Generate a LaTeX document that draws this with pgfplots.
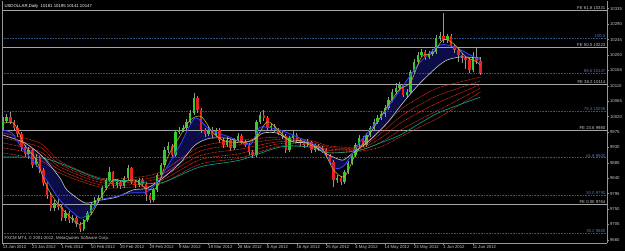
\documentclass[border=0pt]{standalone}
\usepackage{fontspec}
\setmainfont{Liberation Sans}
\usepackage{pgfplots}
\usepackage{pgfplotstable}
\pgfplotsset{compat=1.18}
\definecolor{axgray}{RGB}{150,150,150}
\definecolor{labgray}{RGB}{200,200,200}
\definecolor{fegray}{RGB}{165,165,165}
\definecolor{fibo}{RGB}{40,85,130}
\definecolor{fibotxt}{RGB}{80,120,170}
\definecolor{cup}{RGB}{50,205,50}
\definecolor{cdn}{RGB}{240,30,30}
\definecolor{wick}{RGB}{150,150,150}
\definecolor{teal2}{RGB}{0,170,150}
\definecolor{redma}{RGB}{255,55,30}
\definecolor{whitema}{RGB}{200,200,190}
\definecolor{bluema}{RGB}{50,70,250}
\definecolor{yelma}{RGB}{190,170,50}
\definecolor{navyfill}{RGB}{12,12,72}
\newcommand{\tf}{\fontsize{4.3}{5}\selectfont}

\pgfplotstableread{
x o h l c
0 9987 10018 9980 10007
1 10007 10028 10000 10019
7 9911 9930 9895 9922
9 9879 9910 9872 9899
14 9753 9776 9744 9768
17 9724 9746 9715 9738
19 9718 9732 9708 9724
22 9692 9722 9686 9718
23 9718 9745 9712 9738
24 9738 9768 9732 9762
25 9762 9784 9755 9776
26 9776 9792 9768 9782
27 9782 9818 9776 9811
28 9811 9842 9805 9835
29 9835 9872 9828 9858
31 9820 9838 9812 9829
33 9817 9848 9812 9841
34 9841 9880 9835 9870
37 9820 9842 9814 9835
41 9776 9812 9770 9806
42 9806 9856 9800 9849
43 9849 9886 9842 9879
44 9879 9930 9872 9922
45 9922 9945 9915 9934
47 9908 9982 9902 9975
48 9975 9990 9968 9981
49 9981 9996 9974 9987
50 9987 10012 9980 10004
51 10004 10040 9998 10030
52 10030 10089 10025 10074
56 9969 9992 9962 9981
58 9966 9988 9960 9981
61 9937 9960 9930 9951
63 9928 9958 9922 9951
64 9951 9972 9945 9963
69 9908 10010 9902 10004
70 10004 10034 9998 10024
73 9987 10000 9980 9992
78 9922 9962 9916 9957
79 9957 9978 9950 9966
83 9937 9954 9930 9946
85 9922 9940 9916 9934
91 9835 9850 9826 9841
93 9829 9864 9822 9858
94 9858 9890 9852 9884
95 9884 9914 9878 9908
96 9908 9944 9902 9937
97 9937 9966 9930 9957
99 9937 9972 9932 9966
100 9966 9994 9960 9987
101 9987 10012 9980 10004
102 10004 10024 9998 10016
103 10016 10036 10010 10027
104 10027 10054 10020 10045
105 10045 10076 10040 10068
106 10068 10100 10062 10092
107 10092 10118 10086 10103
108 10103 10120 10096 10112
110 10083 10100 10075 10092
111 10092 10156 10088 10150
112 10150 10188 10144 10179
113 10179 10210 10172 10200
114 10200 10218 10194 10208
116 10194 10212 10188 10202
117 10202 10218 10196 10208
118 10208 10258 10204 10249
119 10249 10266 10242 10255
121 10243 10262 10236 10255
128 10156 10210 10150 10194
}\up

\pgfplotstableread{
x o h l c
2 10019 10032 9998 10004
3 10004 10010 9980 9987
4 9987 9995 9960 9969
5 9969 9974 9920 9931
6 9931 9938 9902 9911
8 9922 9926 9870 9879
10 9899 9905 9855 9864
11 9864 9870 9818 9826
12 9826 9832 9780 9791
13 9791 9798 9745 9753
15 9768 9780 9748 9756
16 9756 9765 9716 9724
18 9738 9744 9710 9718
20 9724 9730 9698 9706
21 9706 9712 9683 9692
30 9858 9862 9812 9820
32 9829 9835 9808 9817
35 9870 9874 9822 9829
36 9829 9836 9812 9820
38 9835 9840 9816 9823
39 9823 9828 9775 9791
40 9791 9798 9768 9776
46 9934 9940 9900 9908
53 10074 10080 10030 10039
54 10039 10045 9972 9981
55 9981 9988 9960 9969
57 9981 9990 9958 9966
59 9981 9986 9944 9951
60 9951 9958 9928 9937
62 9951 9956 9920 9928
65 9963 9968 9940 9946
66 9946 9952 9930 9937
67 9937 9942 9908 9916
68 9916 9922 9900 9908
71 10024 10040 10008 10016
72 10016 10022 9980 9987
74 9992 9998 9974 9981
75 9981 9986 9965 9972
76 9972 9980 9955 9963
77 9963 9968 9914 9922
80 9966 9972 9944 9951
81 9951 9958 9935 9943
82 9943 9950 9928 9937
84 9946 9950 9915 9922
86 9934 9940 9920 9928
87 9928 9934 9914 9922
88 9922 9928 9900 9908
89 9908 9912 9878 9887
90 9887 9892 9815 9835
92 9841 9848 9820 9829
98 9957 9962 9930 9937
109 10112 10116 10076 10083
115 10208 10214 10186 10194
120 10255 10322 10236 10243
122 10255 10262 10220 10226
123 10226 10232 10206 10214
124 10214 10220 10180 10200
125 10200 10206 10176 10191
126 10191 10198 10160 10185
127 10185 10190 10148 10156
129 10194 10220 10174 10181
130 10181 10195 10141 10147
}\down

\pgfplotstableread{
x y
0 9966
6 9943
10.9 9902
15.5 9841
17.4 9806
22.3 9768
26.4 9776
31 9785
35.4 9806
39.2 9811
43.6 9841
48.2 9884
51.7 9931
53.6 9946
56.4 9957
61 9957
65.4 9946
68.1 9951
70.8 9972
74.6 9972
79 9946
83.6 9943
86.3 9922
89.9 9902
92.6 9893
95.3 9914
99.9 9951
104.6 10001
108.9 10060
113.6 10118
118.2 10165
120.9 10185
124.5 10194
130 10191
}\whiteMA

\pgfplotstableread{
x y
0 9981
2.5 9972
4.6 9937
10.1 9864
15.5 9776
21 9724
23.7 9741
26.4 9776
30 9785
34.6 9797
39.2 9800
42.8 9841
48.2 9937
52.3 10016
56.4 9981
61.8 9960
67.3 9937
70 9989
75.4 9981
80.9 9957
86.3 9928
90.4 9870
93.1 9879
97.2 9946
102.7 10016
108.1 10097
113.6 10179
119 10229
123.1 10223
127.2 10200
130 10185
}\blueMA

% navy band: blue average forward, white average back
\pgfplotstableread{
x y
0 9981
2.5 9972
4.6 9937
10.1 9864
15.5 9776
21 9724
23.7 9741
26.4 9776
30 9785
34.6 9797
39.2 9800
42.8 9841
48.2 9937
52.3 10016
56.4 9981
61.8 9960
67.3 9937
70 9989
75.4 9981
80.9 9957
86.3 9928
90.4 9870
93.1 9879
97.2 9946
102.7 10016
108.1 10097
113.6 10179
119 10229
123.1 10223
127.2 10200
130 10185
130 10191
124.5 10194
120.9 10185
118.2 10165
113.6 10118
108.9 10060
104.6 10001
99.9 9951
95.3 9914
92.6 9893
89.9 9902
86.3 9922
83.6 9943
79 9946
74.6 9972
70.8 9972
68.1 9951
65.4 9946
61 9957
56.4 9957
53.6 9946
51.7 9931
48.2 9884
43.6 9841
39.2 9811
35.4 9806
31 9785
26.4 9776
22.3 9768
17.4 9806
15.5 9841
10.9 9902
6 9943
0 9966
}\band

\begin{document}
\begin{tikzpicture}
\fill[black] (0,0) rectangle (625bp,251bp);
\begin{axis}[
  at={(2bp,8bp)}, anchor=south west, scale only axis,
  width=605bp, height=242bp,
  xmin=-0.27, xmax=164.49, ymin=9651, ymax=10357.5,
  axis x line*=bottom, axis y line*=right,
  axis line style={draw=axgray, line width=0.6bp},
  tick align=outside, major tick length=2bp,
  tick style={draw=axgray, line width=0.5bp},
  xtick={0,8,...,128},
  xticklabels={13 Jan 2012,23 Jan 2012,1 Feb 2012,10 Feb 2012,20 Feb 2012,29 Feb 2012,9 Mar 2012,19 Mar 2012,28 Mar 2012,6 Apr 2012,16 Apr 2012,25 Apr 2012,4 May 2012,14 May 2012,23 May 2012,1 Jun 2012,11 Jun 2012},
  xticklabel style={font=\tf, text=labgray, anchor=north west, inner sep=0.6bp, xshift=-1bp},
  ytick={9660,9705,...,10335},
  scaled y ticks=false,
  /pgf/number format/1000 sep={},
  /pgf/number format/assume math mode=true,
  yticklabel style={font=\tf, text=labgray, anchor=west, inner sep=0.8bp},
]
% navy band
\addplot[fill=navyfill, draw=none, smooth, tension=0.4] table[x=x, y=y] {\band};
% horizontal levels
\addplot[fegray, line width=0.7bp] coordinates {(-0.27,10331) (164.49,10331)};
\addplot[fegray, line width=0.7bp] coordinates {(-0.27,10223) (164.49,10223)};
\addplot[fegray, line width=0.7bp] coordinates {(-0.27,10114) (164.49,10114)};
\addplot[fegray, line width=0.7bp] coordinates {(-0.27,9980) (164.49,9980)};
\addplot[fegray, line width=0.7bp] coordinates {(-0.27,9764) (164.49,9764)};
\addplot[fibo, line width=0.6bp, densely dotted] coordinates {(-0.27,10250) (164.49,10250)};
\addplot[fibo, line width=0.6bp, densely dotted] coordinates {(-0.27,10147) (164.49,10147)};
\addplot[fibo, line width=0.6bp, densely dotted] coordinates {(-0.27,10035) (164.49,10035)};
\addplot[fibo, line width=0.6bp, densely dotted] coordinates {(-0.27,9900) (164.49,9900)};
\addplot[fibo, line width=0.6bp, densely dotted] coordinates {(-0.27,9790) (164.49,9790)};
\addplot[fibo, line width=0.6bp, densely dotted] coordinates {(-0.27,9680) (164.49,9680)};
% left frame line
\addplot[axgray, line width=0.8bp] coordinates {(-0.2,9651) (-0.2,10357.5)};

% wicks
\addplot[wick, line width=0.6bp, quiver={u=0, v=\thisrow{h}-\thisrow{l}}] table[x=x, y=l] {\up};
\addplot[wick, line width=0.6bp, quiver={u=0, v=\thisrow{h}-\thisrow{l}}] table[x=x, y=l] {\down};
% bodies
\addplot[cup, line width=2.4bp, quiver={u=0, v=\thisrow{c}-\thisrow{o}}] table[x=x, y=o] {\up};
\addplot[cdn, line width=2.4bp, quiver={u=0, v=\thisrow{o}-\thisrow{c}}] table[x=x, y=c] {\down};

% red ribbon
\addplot[redma, line width=0.6bp, dash pattern=on 0.7bp off 0.7bp, smooth] coordinates {(0,9972)(10,9943)(15.5,9890)(26.4,9841)(34.6,9841)(42.8,9858)(53.6,9931)(64.5,9951)(75.4,9960)(83.6,9951)(89,9934)(97.2,9934)(102.7,9981)(108.1,10039)(113.6,10077)(119,10106)(130,10135)};
\addplot[redma, line width=0.6bp, dash pattern=on 0.7bp off 0.7bp, smooth] coordinates {(0,9958)(10,9931)(15.5,9881)(26.4,9834)(34.6,9834)(42.8,9849)(53.6,9919)(64.5,9938)(75.4,9954)(83.6,9946)(89,9930)(97.2,9930)(102.7,9969)(108.1,10019)(113.6,10055)(119,10084)(130,10124)};
\addplot[redma, line width=0.6bp, dash pattern=on 0.7bp off 0.7bp, smooth] coordinates {(0,9943)(10,9918)(15.5,9873)(26.4,9828)(34.6,9828)(42.8,9841)(53.6,9906)(64.5,9925)(75.4,9947)(83.6,9941)(89,9925)(97.2,9927)(102.7,9956)(108.1,10000)(113.6,10034)(119,10063)(130,10114)};
\addplot[redma, line width=0.6bp, dash pattern=on 0.7bp off 0.7bp, smooth] coordinates {(0,9929)(10,9906)(15.5,9864)(26.4,9821)(34.6,9821)(42.8,9832)(53.6,9894)(64.5,9912)(75.4,9941)(83.6,9936)(89,9921)(97.2,9923)(102.7,9944)(108.1,9980)(113.6,10012)(119,10041)(130,10103)};
\addplot[redma, line width=0.6bp, dash pattern=on 0.7bp off 0.7bp, smooth] coordinates {(0,9914)(10,9893)(15.5,9855)(26.4,9814)(34.6,9814)(42.8,9823)(53.6,9881)(64.5,9899)(75.4,9934)(83.6,9931)(89,9916)(97.2,9919)(102.7,9931)(108.1,9960)(113.6,9990)(119,10019)(130,10092)};
% teal
\addplot[teal2, line width=0.6bp, smooth] coordinates {(0,9902)(10,9900)(15.5,9884)(26.4,9838)(34.6,9833)(42.8,9826)(53.6,9873)(64.5,9893)(75.4,9931)(83.6,9931)(89,9914)(97.2,9922)(102.7,9943)(108.1,9966)(113.6,10001)(119,10033)(130,10077)};
% white and blue
\addplot[whitema, line width=0.6bp, smooth, tension=0.4] table[x=x, y=y] {\whiteMA};
\addplot[bluema, line width=0.8bp, smooth, tension=0.4] table[x=x, y=y] {\blueMA};
% yellow
\addplot[yelma, line width=0.6bp, smooth] coordinates {(0,10000)(3,10000)(6,9935)(9,9895)(12,9815)(15,9765)(18,9730)(21,9705)(24,9735)(27,9790)(30,9835)(33,9830)(36,9835)(39,9810)(42,9815)(45,9905)(48,9960)(51,10010)(54,10020)(57,9975)(60,9950)(63,9945)(66,9945)(69,9960)(72,10005)(75,9980)(78,9950)(81,9950)(84,9935)(87,9925)(90,9865)(93,9845)(96,9910)(99,9955)(102,10005)(105,10055)(108,10100)(111,10120)(114,10195)(117,10205)(120,10245)(123,10230)(126,10195)(129,10180)(130,10170)};

% level labels
\node[anchor=south east, font=\tf, text=labgray, inner sep=0.4bp] at (axis cs:164.2,10331) {FE 61.8 10331};
\node[anchor=south east, font=\tf, text=fibotxt, inner sep=0.4bp] at (axis cs:164.2,10250) {100.0};
\node[anchor=south east, font=\tf, text=labgray, inner sep=0.4bp] at (axis cs:164.2,10223) {FE 50.0 10223};
\node[anchor=south east, font=\tf, text=fibotxt, inner sep=0.4bp] at (axis cs:164.2,10147) {88.6 10147};
\node[anchor=south east, font=\tf, text=labgray, inner sep=0.4bp] at (axis cs:164.2,10114) {FE 38.2 10114};
\node[anchor=south east, font=\tf, text=fibotxt, inner sep=0.4bp] at (axis cs:164.2,10035) {76.4 10035};
\node[anchor=south east, font=\tf, text=labgray, inner sep=0.4bp] at (axis cs:164.2,9980) {FE 23.6 9980};
\node[anchor=south east, font=\tf, text=fibotxt, inner sep=0.4bp] at (axis cs:164.2,9900) {61.8 9900};
\node[anchor=south east, font=\tf, text=fibotxt, inner sep=0.4bp] at (axis cs:164.2,9790) {50.0 9790};
\node[anchor=south east, font=\tf, text=labgray, inner sep=0.4bp] at (axis cs:164.2,9764) {FE 0.00 9764};
\node[anchor=south east, font=\tf, text=fibotxt, inner sep=0.4bp] at (axis cs:164.2,9680) {38.2 9680};
% price box
\node[anchor=west, fill=white, text=black, font=\tf, inner sep=0.6bp] at (axis cs:164.49,10147) {10147};
% title and footer
\node[anchor=north west, font=\tf, text=white, inner sep=0.5bp] at (rel axis cs:0.003,0.99) {USDOLLAR,Daily\ \ 10181 10195 10141 10147};
\node[anchor=south west, font=\tf, text=labgray, inner sep=0.5bp] at (rel axis cs:0.003,0.006) {FXCM MT4, © 2001-2012, MetaQuotes Software Corp.};
\end{axis}
\pgfresetboundingbox
\path[use as bounding box] (0,0) rectangle (625bp,251bp);
\end{tikzpicture}
\end{document}
